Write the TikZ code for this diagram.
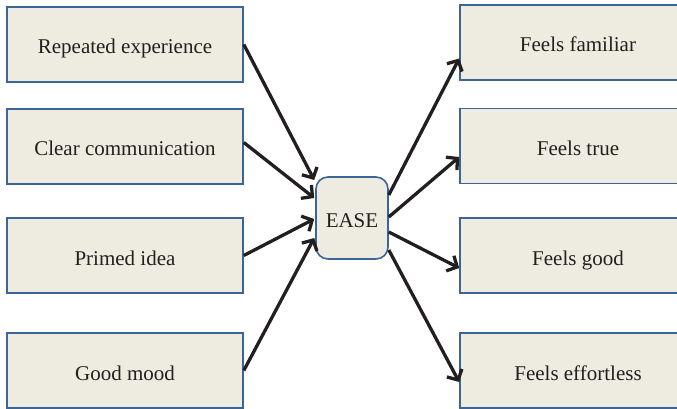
\documentclass[tikz,border=0pt]{standalone}
\usepackage{fontspec}
\setmainfont{Liberation Serif}
\usetikzlibrary{arrows.meta}
\definecolor{boxfill}{HTML}{EEEBE0}
\definecolor{boxline}{HTML}{3B6597}
\definecolor{txt}{HTML}{231F20}
\begin{document}
\begin{tikzpicture}[x=1pt,y=-1pt,
  box/.style={draw=boxline, fill=boxfill, line width=1.6pt, minimum width=236pt, minimum height=75pt, inner sep=0pt, text height=19pt, text depth=0pt, font=\fontsize{21}{24}\selectfont, text=txt},
  ease/.style={draw=boxline, fill=boxfill, line width=1.6pt, rounded corners=12pt, minimum width=72pt, minimum height=82pt, inner sep=0pt, text height=19pt, text depth=0pt, font=\fontsize{21}{24}\selectfont, text=txt},
  arr/.style={draw=txt, line width=3.3pt, -{Straight Barb[length=8pt,width=17pt]}}]
\useasboundingbox (0,0) rectangle (677,409);
\clip (0,0) rectangle (677,409);
\node[box] (l1) at (125,44.5) {Repeated experience};
\node[box] (l2) at (125,146.5) {Clear communication};
\node[box] (l3) at (125,255.5) {Primed idea};
\node[box] (l4) at (125,370.5) {Good mood};
\node[box] (r1) at (578,42.5) {Feels familiar};
\node[box] (r2) at (578,146) {Feels true};
\node[box] (r3) at (578,255.5) {Feels good};
\node[box] (r4) at (578,370.5) {Feels effortless};
\node[ease] (e) at (352,218) {EASE};
\draw[arr] (l1.east) -- ([yshift=38pt,xshift=-1pt]e.west);
\draw[arr] ([yshift=4pt]l2.east) -- ([yshift=20pt,xshift=-1pt]e.west);
\draw[arr] (l3.east) -- ([yshift=-1pt,xshift=-1pt]e.west);
\draw[arr] (l4.east) -- ([yshift=-20pt,xshift=-1pt]e.west);
\draw[arr] ([yshift=23pt]e.east) -- ([yshift=-16pt]r1.west);
\draw[arr] ([yshift=1pt]e.east) -- ([yshift=-11pt]r2.west);
\draw[arr] ([yshift=-14pt]e.east) -- ([yshift=-12.5pt]r3.west);
\draw[arr] ([yshift=-32pt]e.east) -- ([yshift=-11.5pt]r4.west);
\end{tikzpicture}
\end{document}
